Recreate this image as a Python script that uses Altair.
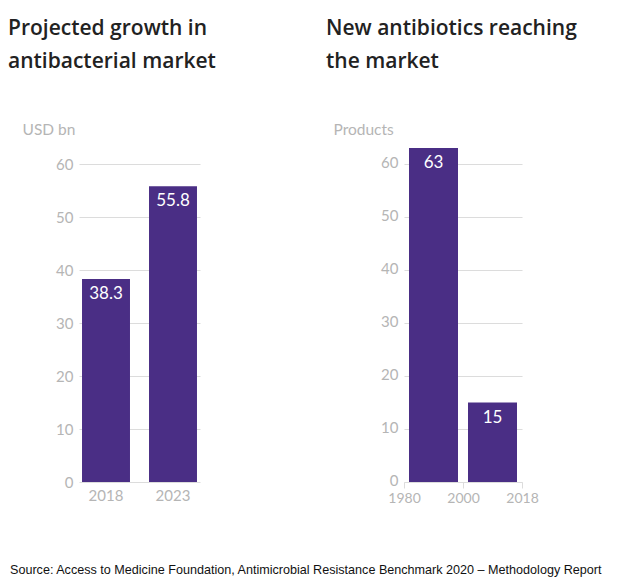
import altair as alt
import pandas as pd

# Left panel data
market_years = ["2018", "2023"]
market_values = [38.3, 55.8]

# Right panel data
period_edges = ["1980", "2000", "2018"]
product_counts = [63, 15]

BAR = "#4a2e85"
GRID = "#dcdcdc"
LABEL = "#b5b5b5"
TITLE_FONT = "Open Sans"
AXIS_FONT = "Lato"

left_df = pd.DataFrame({"year": market_years, "value": market_values,
                        "label": [f"{v:.1f}" for v in market_values]})
right_df = pd.DataFrame({
    "start": list(range(len(product_counts))),
    "end": [i + 1 for i in range(len(product_counts))],
    "value": product_counts,
    "label": [str(v) for v in product_counts],
})
edge_expr = "[" + ",".join(f"'{e}'" for e in period_edges) + "][datum.value]"

yscale = alt.Scale(domain=[0, 60], nice=False)

def yaxis(title, tx, offset=0):
    return alt.Axis(values=[0, 10, 20, 30, 40, 50, 60], grid=True, gridColor=GRID,
                    domain=False, ticks=False, labelColor=LABEL, labelFont=AXIS_FONT,
                    labelFontSize=15, labelPadding=6, labelOffset=offset,
                    title=title, titleAngle=0,
                    titleAlign="left", titleBaseline="middle", titleX=tx, titleY=-35,
                    titleColor=LABEL, titleFont=AXIS_FONT, titleFontSize=15.5,
                    titleFontWeight="normal")

left_base = alt.Chart(left_df)
left_bars = left_base.mark_bar(color=BAR).encode(
    x=alt.X("year:N", scale=alt.Scale(paddingInner=0.284, paddingOuter=0.045),
            axis=alt.Axis(title=None, labelAngle=0, domain=False, ticks=False,
                          labelColor=LABEL, labelFont=AXIS_FONT, labelFontSize=15,
                          labelPadding=6)),
    y=alt.Y("value:Q", scale=yscale, axis=yaxis("USD bn", -57)),
)
left_text = left_base.mark_text(color="white", font=AXIS_FONT, fontSize=17,
                                baseline="top", dy=7).encode(
    x="year:N", y="value:Q", text="label:N")
left = alt.layer(left_bars, left_text).properties(
    width=121, height=318,
    title=alt.TitleParams(["Projected growth in", "antibacterial market"],
                          anchor="start", font=TITLE_FONT, fontSize=21,
                          fontWeight=600, color="#222222", lineHeight=33,
                          dx=-14, offset=50),
)

right_base = alt.Chart(right_df)
right_bars = right_base.mark_bar(color=BAR, xOffset=5, x2Offset=-5).encode(
    x=alt.X("start:Q", scale=alt.Scale(domain=[0, 2], nice=False),
            axis=alt.Axis(values=[0, 1, 2], labelExpr=edge_expr, title=None,
                          grid=False, domain=True, domainColor=GRID, ticks=True,
                          tickColor=GRID, tickSize=6, labelColor=LABEL,
                          labelFont=AXIS_FONT, labelFontSize=14, labelPadding=3,
                          labelFlush=False)),
    x2="end:Q",
    y=alt.Y("value:Q", scale=yscale, axis=yaxis("Products", -71, -2)),
    y2=alt.datum(0),
)
right_text = right_base.mark_text(color="white", font=AXIS_FONT, fontSize=17,
                                  baseline="top", dy=7).encode(
    x=alt.X("mid:Q"), y="value:Q", text="label:N").transform_calculate(
    mid="(datum.start + datum.end) / 2")
right = alt.layer(right_bars, right_text).properties(
    width=118, height=318,
    title=alt.TitleParams(["New antibiotics reaching", "the market"],
                          anchor="start", font=TITLE_FONT, fontSize=21,
                          fontWeight=600, color="#222222", lineHeight=33,
                          dx=-7, offset=50),
)

chart = alt.hconcat(left, right, spacing=110).properties(
    title=alt.TitleParams(
        "Source: Access to Medicine Foundation, Antimicrobial Resistance Benchmark 2020 – Methodology Report",
        orient="bottom", anchor="start", font="Liberation Sans", fontSize=12.6,
        fontWeight="normal", color="#111111", offset=59, dx=2),
    padding={"left": 8, "top": 18, "right": 5, "bottom": 5},
).configure_view(stroke=None).configure_axis(gridWidth=1.2)

chart.save("out.html", embed_options={"renderer": "svg", "actions": False})
